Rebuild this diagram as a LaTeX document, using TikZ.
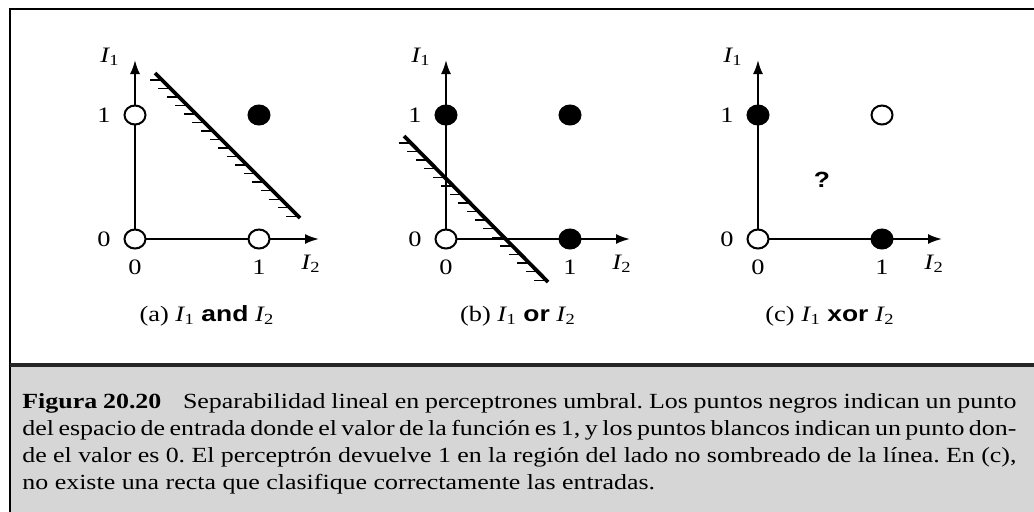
\documentclass[tikz,border=0pt]{standalone}
\usepackage{fontspec}
\setmainfont{Liberation Serif}[FakeStretch=1.2]
\setsansfont{Liberation Sans}[FakeStretch=1.2]
\usetikzlibrary{shapes.geometric, arrows.meta, calc}

\newcommand{\inp}[1]{\textit{I}\kern-0.3pt\textsubscript{#1}}

\begin{document}
\frenchspacing
\begin{tikzpicture}[x=0.5pt, y=-0.5pt,
  axis/.style={line width=1pt, -{Latex[length=7pt, width=5pt]}},
  dotw/.style={draw, ellipse, line width=1pt, fill=white, minimum width=10.5pt, minimum height=9.5pt, inner sep=0pt},
  dotb/.style={dotw, fill=black},
  lbl/.style={font=\fontsize{11}{13}\selectfont, inner sep=0pt},
  sepline/.style={line width=1.9pt},
  hatch/.style={line width=0.7pt},
  capt/.style={font=\fontsize{10.8}{13.5}\selectfont, inner sep=0pt, text width=497pt, align=justify}
]
\clip (0,0) rectangle (1034,511);

% ---- Marco y recuadro del pie ----
\fill[black!16] (10,366) rectangle (1040,520);
\draw[line width=0.7pt] (1040,9) -- (10,9) -- (10,520);
\draw[line width=2pt, black!85] (10,365) -- (1040,365);

% ---- (a) I1 and I2 ----
\coordinate (oa) at (135,239);
\coordinate (ya) at (135,60);
\coordinate (xa) at (319,239);
\draw[axis] (oa) -- (ya);
\draw[axis] (oa) -- (xa);
\coordinate (sa) at (155,73);
\coordinate (ea) at (300,218);
\draw[sepline] (sa) -- (ea);
\foreach \k in {1,...,17}
  \draw[hatch] ($(sa)!{(\k-0.2)/17}!(ea)$) -- ++(-12,0);
\node[dotw] (a00) at (oa) {};
\node[dotw] (a01) at (135,115) {};
\node[dotw] (a10) at (259,239) {};
\node[dotb] (a11) at (259,115) {};
\node[lbl] (ay1) at (104,115) {1};
\node[lbl] (ay0) at (104,239) {0};
\node[lbl] (ax0) at (135,267) {0};
\node[lbl] (ax1) at (259,267) {1};
\node[lbl] (ai2) at (311,264) {\inp{2}};
\node[lbl] (ai1) at (110,57) {\inp{1}};
\node[lbl] (acap) at (207,316) {(a) \inp{1} \textsf{\textbf{and}} \inp{2}};

% ---- (b) I1 or I2 ----
\coordinate (ob) at (446,239);
\coordinate (yb) at (446,60);
\coordinate (xb) at (630,239);
\draw[axis] (ob) -- (yb);
\draw[axis] (ob) -- (xb);
\coordinate (sb) at (404,136);
\coordinate (eb) at (548,282);
\draw[sepline] (sb) -- (eb);
\foreach \k in {1,...,17}
  \draw[hatch] ($(sb)!{(\k-0.2)/17}!(eb)$) -- ++(-12,0);
\node[dotw] (b00) at (ob) {};
\node[dotb] (b01) at (446,115) {};
\node[dotb] (b10) at (570,239) {};
\node[dotb] (b11) at (570,115) {};
\node[lbl] (by1) at (415,115) {1};
\node[lbl] (by0) at (415,239) {0};
\node[lbl] (bx0) at (446,267) {0};
\node[lbl] (bx1) at (570,267) {1};
\node[lbl] (bi2) at (622,264) {\inp{2}};
\node[lbl] (bi1) at (421,57) {\inp{1}};
\node[lbl] (bcap) at (518,316) {(b) \inp{1} \textsf{\textbf{or}} \inp{2}};

% ---- (c) I1 xor I2 ----
\coordinate (oc) at (758,239);
\coordinate (yc) at (758,60);
\coordinate (xc) at (942,239);
\draw[axis] (oc) -- (yc);
\draw[axis] (oc) -- (xc);
\node[dotw] (c00) at (oc) {};
\node[dotb] (c01) at (758,115) {};
\node[dotb] (c10) at (882,239) {};
\node[dotw] (c11) at (882,115) {};
\node[lbl] (cy1) at (727,115) {1};
\node[lbl] (cy0) at (727,239) {0};
\node[lbl] (cx0) at (758,267) {0};
\node[lbl] (cx1) at (882,267) {1};
\node[lbl] (ci2) at (934,264) {\inp{2}};
\node[lbl] (ci1) at (733,57) {\inp{1}};
\node[lbl] (cq) at (822,180) {\textsf{\textbf{?}}};
\node[lbl] (ccap) at (830,316) {(c) \inp{1} \textsf{\textbf{xor}} \inp{2}};

% ---- Pie de figura ----
\node[capt, anchor=north west] (pie) at (22,393) {\textbf{Figura 20.20}\quad Separabilidad lineal en perceptrones umbral. Los puntos negros indican un punto\linebreak del espacio de entrada donde el valor de la función es 1, y los puntos blancos indican un punto don-\linebreak de el valor es 0. El perceptrón devuelve 1 en la región del lado no sombreado de la línea. En (c),\linebreak no existe una recta que clasifique correctamente las entradas.};

\end{tikzpicture}
\end{document}
